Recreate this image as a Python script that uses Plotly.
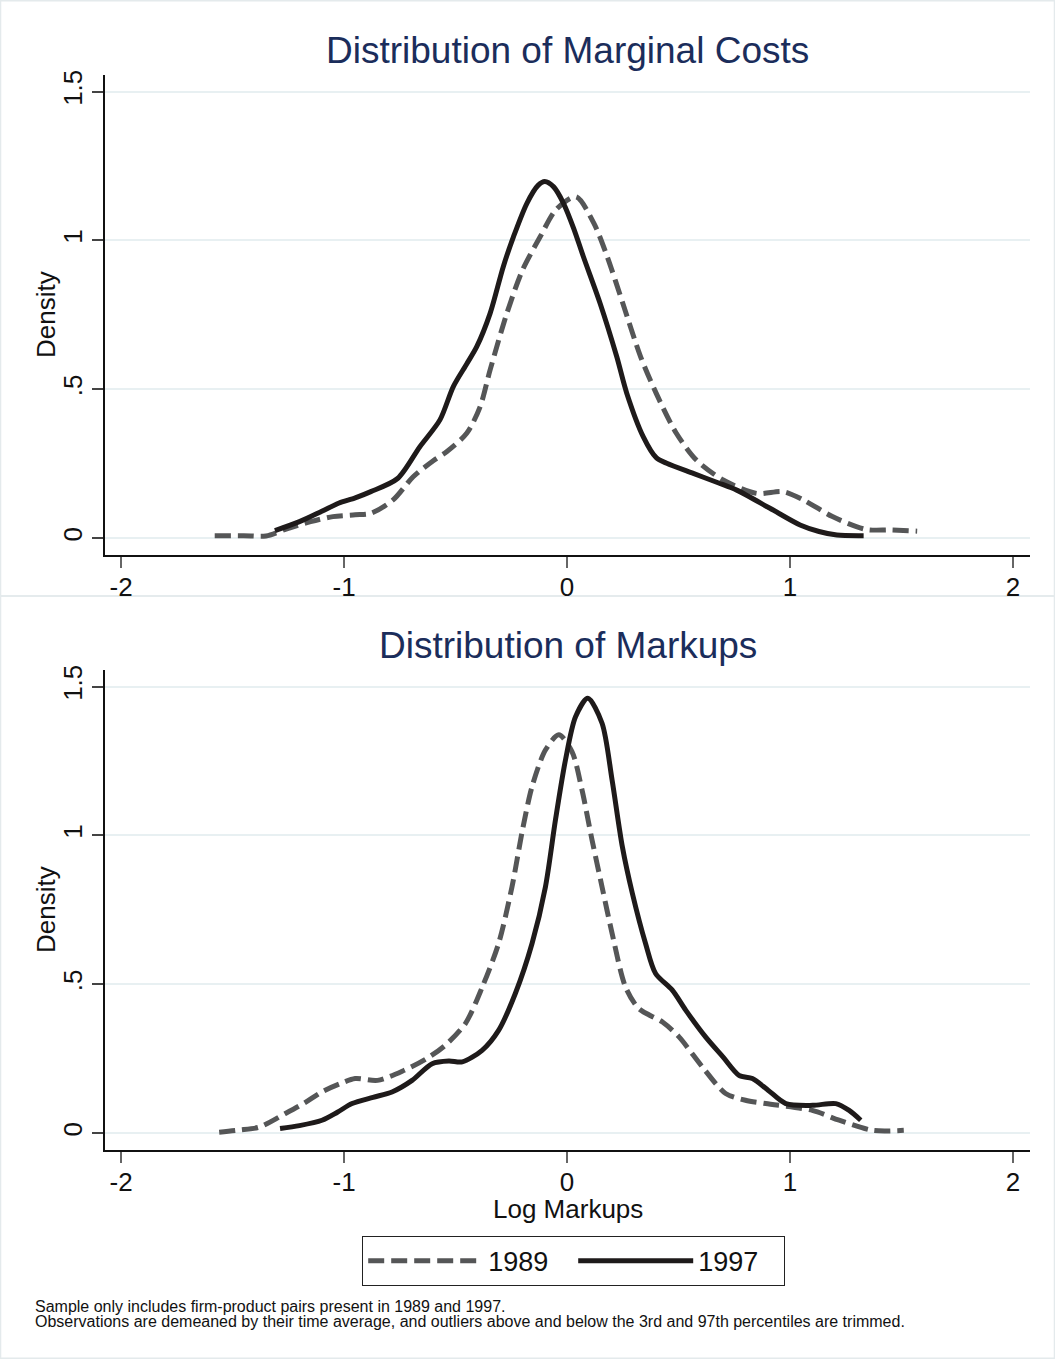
import plotly.graph_objects as go

# ---------------- data ----------------
mc89_x = [-1.58, -1.45, -1.35, -1.26, -1.15, -1.05, -0.95, -0.88, -0.78, -0.69, -0.60, -0.54,
          -0.45, -0.39, -0.345, -0.27, -0.20, -0.12, -0.05, 0.04, 0.12, 0.18, 0.25, 0.33,
          0.40, 0.49, 0.58, 0.70, 0.85, 0.97, 1.06, 1.19, 1.34, 1.45, 1.57]
mc89_y = [0.008, 0.008, 0.007, 0.030, 0.055, 0.072, 0.078, 0.083, 0.128, 0.206, 0.260, 0.290,
          0.352, 0.441, 0.565, 0.755, 0.900, 1.013, 1.103, 1.147, 1.058, 0.946, 0.789, 0.609,
          0.486, 0.352, 0.262, 0.195, 0.150, 0.156, 0.128, 0.072, 0.029, 0.027, 0.023]

mc97_x = [-1.31, -1.20, -1.10, -1.025, -0.95, -0.88, -0.76, -0.66, -0.57, -0.51, -0.45, -0.405,
          -0.345, -0.286, -0.24, -0.18, -0.13, -0.10, -0.06, -0.016, 0.03, 0.073, 0.148, 0.223,
          0.268, 0.342, 0.40, 0.447, 0.566, 0.68, 0.761, 0.91, 1.045, 1.13, 1.21, 1.33]
mc97_y = [0.025, 0.055, 0.090, 0.117, 0.135, 0.156, 0.200, 0.307, 0.397, 0.509, 0.585, 0.643,
          0.755, 0.912, 1.013, 1.125, 1.185, 1.198, 1.180, 1.125, 1.040, 0.946, 0.789, 0.609,
          0.486, 0.340, 0.270, 0.251, 0.217, 0.185, 0.161, 0.100, 0.044, 0.022, 0.010, 0.008]

mk89_x = [-1.56, -1.47, -1.38, -1.265, -1.18, -1.10, -1.02, -0.95, -0.85, -0.73, -0.63, -0.546,
          -0.456, -0.38, -0.307, -0.247, -0.20, -0.157, -0.097, -0.037, 0.022, 0.067, 0.112,
          0.157, 0.202, 0.262, 0.322, 0.428, 0.502, 0.607, 0.711, 0.80, 0.891, 1.10, 1.22,
          1.37, 1.51]
mk89_y = [0.003, 0.010, 0.020, 0.065, 0.100, 0.138, 0.165, 0.183, 0.177, 0.211, 0.250, 0.295,
          0.368, 0.491, 0.637, 0.827, 1.018, 1.164, 1.287, 1.338, 1.282, 1.153, 0.985,
          0.827, 0.671, 0.491, 0.418, 0.373, 0.323, 0.222, 0.133, 0.110, 0.099, 0.076, 0.043,
          0.009, 0.009]

mk97_x = [-1.287, -1.20, -1.099, -1.03, -0.964, -0.87, -0.785, -0.695, -0.605, -0.53, -0.47,
          -0.381, -0.307, -0.232, -0.157, -0.097, -0.052, -0.007, 0.038, 0.093, 0.157, 0.202,
          0.248, 0.293, 0.352, 0.397, 0.472, 0.532, 0.621, 0.70, 0.771, 0.831, 0.90, 0.981,
          1.101, 1.205, 1.265, 1.317]
mk97_y = [0.015, 0.025, 0.043, 0.070, 0.099, 0.120, 0.138, 0.177, 0.233, 0.242, 0.239,
          0.278, 0.345, 0.469, 0.637, 0.827, 1.052, 1.254, 1.399, 1.461, 1.377, 1.186,
          0.962, 0.805, 0.637, 0.536, 0.480, 0.413, 0.323, 0.255, 0.194, 0.183, 0.145, 0.099,
          0.093, 0.099, 0.076, 0.043]

series_names = ["1989", "1997"]
x_ticks = [-2, -1, 0, 1, 2]
x_ticklabels = ["-2", "-1", "0", "1", "2"]
y_ticks = [0, 0.5, 1, 1.5]
y_ticklabels = ["0", ".5", "1", "1.5"]

titles = ["Distribution of Marginal Costs", "Distribution of Markups"]
y_title = "Density"
x_title_bottom = "Log Markups"
notes = ["Sample only includes firm-product pairs present in 1989 and 1997.",
         "Observations are demeaned by their time average, and outliers above and below the 3rd and 97th percentiles are trimmed."]

# ---------------- figure ----------------
W, H = 1055, 1359
FONT = "Liberation Sans, Arial, sans-serif"
C89 = "#555657"
C97 = "#1e1a1a"
DASH = "16px,7px"
LW = 5

def px_x(p):
    return p / W

def px_y(p):
    return 1 - p / H

fig = go.Figure()

fig.add_trace(go.Scatter(x=mc89_x, y=mc89_y, mode="lines", name=series_names[0],
                         line=dict(color=C89, width=LW, dash=DASH, shape="spline", smoothing=0.8),
                         xaxis="x", yaxis="y", showlegend=False))
fig.add_trace(go.Scatter(x=mc97_x, y=mc97_y, mode="lines", name=series_names[1],
                         line=dict(color=C97, width=LW, shape="spline", smoothing=0.8),
                         xaxis="x", yaxis="y", showlegend=False))
fig.add_trace(go.Scatter(x=mk89_x, y=mk89_y, mode="lines", name=series_names[0],
                         line=dict(color=C89, width=LW, dash=DASH, shape="spline", smoothing=0.8),
                         xaxis="x2", yaxis="y2"))
fig.add_trace(go.Scatter(x=mk97_x, y=mk97_y, mode="lines", name=series_names[1],
                         line=dict(color=C97, width=LW, shape="spline", smoothing=0.8),
                         xaxis="x2", yaxis="y2"))

xdom = [px_x(105), px_x(1030)]
xr = [-2.072, 2.076]
yr = [-0.057, 1.556]

common_x = dict(range=xr, domain=xdom, showgrid=False, zeroline=False, showline=True,
                linecolor="#111", linewidth=1.5, ticks="outside", ticklen=11, tickwidth=1.5,
                tickcolor="#666", tickvals=x_ticks, ticktext=x_ticklabels, ticklabelstandoff=-3,
                tickfont=dict(family=FONT, size=26, color="#111"), fixedrange=True)
common_y = dict(range=yr, showgrid=True, gridcolor="#e8f0f2", gridwidth=1.5, zeroline=False,
                showline=True, linecolor="#111", linewidth=1.5, ticks="outside", ticklen=11,
                tickwidth=1.5, tickcolor="#444", tickvals=y_ticks, ticktext=y_ticklabels,
                tickangle=-90, ticklabelstandoff=0,
                tickfont=dict(family=FONT, size=26, color="#111"), fixedrange=True)

fig.update_layout(
    width=W, height=H, margin=dict(l=0, r=0, t=0, b=0, autoexpand=False),
    paper_bgcolor="white", plot_bgcolor="white",
    xaxis=dict(**common_x, anchor="y"),
    yaxis=dict(**common_y, domain=[px_y(555), px_y(75)], anchor="x"),
    xaxis2=dict(**common_x, anchor="y2"),
    yaxis2=dict(**common_y, domain=[px_y(1150), px_y(670)], anchor="x2"),
    legend=dict(orientation="h", x=px_x(362), xanchor="left", y=px_y(1261), yanchor="middle",
                bordercolor="#222", borderwidth=1.2, bgcolor="white",
                font=dict(family=FONT, size=27, color="#111"), itemwidth=115,
                entrywidth=80, entrywidthmode="pixels",
                itemclick=False, itemdoubleclick=False),
    showlegend=True,
)

annotations = [
    dict(text=titles[0], x=px_x(567), y=px_y(50), xref="paper", yref="paper",
         showarrow=False, font=dict(family=FONT, size=37, color="#1b2d5b"),
         xanchor="center", yanchor="middle"),
    dict(text=titles[1], x=px_x(568), y=px_y(645), xref="paper", yref="paper",
         showarrow=False, font=dict(family=FONT, size=37, color="#1b2d5b"),
         xanchor="center", yanchor="middle"),
    dict(text=y_title, x=px_x(46), y=px_y(315), xref="paper", yref="paper", textangle=-90,
         showarrow=False, font=dict(family=FONT, size=26, color="#111"),
         xanchor="center", yanchor="middle"),
    dict(text=y_title, x=px_x(46), y=px_y(910), xref="paper", yref="paper", textangle=-90,
         showarrow=False, font=dict(family=FONT, size=26, color="#111"),
         xanchor="center", yanchor="middle"),
    dict(text=x_title_bottom, x=px_x(568), y=px_y(1209), xref="paper", yref="paper",
         showarrow=False, font=dict(family=FONT, size=26, color="#111"),
         xanchor="center", yanchor="middle"),
    dict(text=notes[0], x=px_x(33), y=px_y(1306), xref="paper", yref="paper",
         showarrow=False, font=dict(family=FONT, size=16, color="#111"),
         xanchor="left", yanchor="middle"),
    dict(text=notes[1], x=px_x(33), y=px_y(1321), xref="paper", yref="paper",
         showarrow=False, font=dict(family=FONT, size=16, color="#111"),
         xanchor="left", yanchor="middle"),
]
fig.update_layout(annotations=annotations)

# faint panel frames as in the reference
fig.update_layout(shapes=[
    dict(type="rect", xref="paper", yref="paper", x0=0.0005, x1=0.9995, y0=px_y(596), y1=0.9995,
         line=dict(color="#e4eaec", width=1.5), layer="below"),
    dict(type="rect", xref="paper", yref="paper", x0=0.0005, x1=0.9995, y0=0.0005, y1=px_y(596),
         line=dict(color="#e4eaec", width=1.5), layer="below"),
])

fig.write_html("out.html", config={"displayModeBar": False},
               post_script="document.body.style.margin='0';document.body.style.overflow='hidden';")
